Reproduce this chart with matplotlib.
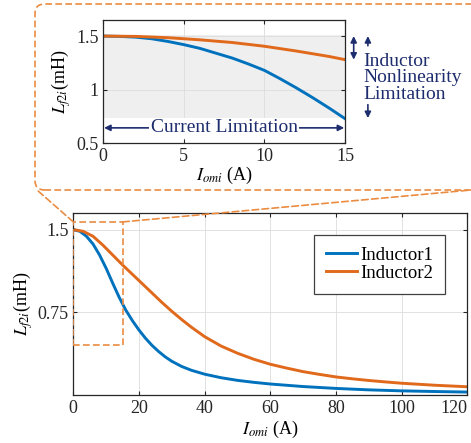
import matplotlib
matplotlib.use('Agg')
import matplotlib.pyplot as plt
from matplotlib.patches import FancyBboxPatch, Rectangle, ConnectionPatch

# Inductance vs. output current, full range
i_blue = [0, 2, 4, 6, 8, 10, 12, 14, 16, 18, 20, 22, 24, 26, 28, 30, 33, 36,
          40, 45, 50, 55, 60, 70, 80, 90, 100, 110, 120]
l_blue = [1.5, 1.485, 1.44, 1.37, 1.27, 1.15, 1.015, 0.885, 0.77, 0.675,
          0.59, 0.515, 0.45, 0.395, 0.347, 0.307, 0.26, 0.225, 0.19, 0.158,
          0.134, 0.116, 0.101, 0.078, 0.061, 0.048, 0.039, 0.033, 0.028]
i_orange = [0, 3, 6, 9, 12, 15, 18, 21, 24, 27, 30, 33, 36, 40, 45, 50, 55,
            60, 65, 70, 75, 80, 85, 90, 95, 100, 110, 120]
l_orange = [1.5, 1.485, 1.44, 1.36, 1.27, 1.18, 1.095, 1.01, 0.925, 0.84,
            0.76, 0.685, 0.615, 0.53, 0.445, 0.38, 0.325, 0.28, 0.245, 0.213,
            0.188, 0.165, 0.148, 0.133, 0.12, 0.108, 0.09, 0.076]

# Zoomed region 0-15 A
zi_blue = [0, 1, 2, 3, 4, 5, 6, 7, 8, 9, 10, 11, 12, 13, 14, 15]
zl_blue = [1.5, 1.497, 1.49, 1.475, 1.45, 1.42, 1.385, 1.34, 1.295, 1.24,
           1.18, 1.10, 1.015, 0.925, 0.83, 0.73]
zi_orange = [0, 2, 4, 6, 8, 10, 12, 14, 15]
zl_orange = [1.5, 1.497, 1.485, 1.465, 1.44, 1.405, 1.36, 1.31, 1.28]

series_names = ['Inductor1', 'Inductor2']
main_xticks = [0, 20, 40, 60, 80, 100, 120]
main_yticks = [0.75, 1.5]
zoom_xticks = [0, 5, 10, 15]
zoom_yticks = [0.5, 1, 1.5]

BLUE = '#0072BD'
ORANGE = '#E0691C'
DASH = '#EA8C42'
NAVY = '#1E2D6E'

plt.rcParams['font.family'] = ['Liberation Serif', 'DejaVu Serif']
plt.rcParams['mathtext.fontset'] = 'stix'
plt.rcParams['font.size'] = 13


def style_axes(ax):
    ax.tick_params(direction='in', length=3, top=True, right=True,
                   labelsize=13, colors='#262626', width=0.8)
    for s in ax.spines.values():
        s.set_color('#262626')
        s.set_linewidth(0.9)
    ax.grid(True, color='#dcdcdc', linewidth=0.6)
    ax.set_axisbelow(True)


fig = plt.figure(figsize=(4.71, 4.43), dpi=100)

# Main plot
ax = fig.add_axes([0.1556, 0.108, 0.8368, 0.411])
ax.plot(i_blue, l_blue, color=BLUE, lw=2.1, label=series_names[0])
ax.plot(i_orange, l_orange, color=ORANGE, lw=2.1, label=series_names[1])
ax.set_xlim(0, 120)
ax.set_ylim(0, 1.65)
ax.set_xticks(main_xticks)
ax.set_yticks(main_yticks)
ax.set_yticklabels(['0.75', '1.5'])
ax.set_xlabel(r'$I_{omi}$ (A)', fontsize=13, labelpad=1)
ax.set_ylabel(r'$L_{f2i}$(mH)', fontsize=13, labelpad=2)
style_axes(ax)
# keep the last tick label inside the figure
ax.get_xticklabels()[-1].set_horizontalalignment('right')
leg = ax.legend(loc='upper right', bbox_to_anchor=(0.943, 0.879),
                borderaxespad=0, fontsize=13.5, fancybox=False,
                edgecolor='#404040', framealpha=1, handlelength=1.65,
                borderpad=0.62, labelspacing=0.05, handletextpad=0.2)
leg.get_frame().set_linewidth(0.9)

# Zoom window marker
ax.add_patch(Rectangle((0, 0.45), 15, 1.12, fill=False, edgecolor=DASH,
                       lw=1.2, ls=(0, (4, 2)), zorder=3))

# Inset plot
ax_in = fig.add_axes([0.2193, 0.6765, 0.5132, 0.2784])
ax_in.axhspan(0.735, 1.51, color='#efefef', zorder=0.1, lw=0)
ax_in.plot(zi_blue, zl_blue, color=BLUE, lw=2.1)
ax_in.plot(zi_orange, zl_orange, color=ORANGE, lw=2.1)
ax_in.set_xlim(0, 15)
ax_in.set_ylim(0.5, 1.65)
ax_in.set_xticks(zoom_xticks)
ax_in.set_yticks(zoom_yticks)
ax_in.set_yticklabels(['0.5', '1', '1.5'])
ax_in.set_xlabel(r'$I_{omi}$ (A)', fontsize=13, labelpad=0)
ax_in.set_ylabel(r'$L_{f2i}$(mH)', fontsize=13, labelpad=2)
style_axes(ax_in)

arrow_kw = dict(arrowstyle='<|-|>', color=NAVY, lw=1.2, mutation_scale=9,
                shrinkA=0, shrinkB=0)
ax_in.annotate('', xy=(0.05, 0.644), xytext=(14.95, 0.644),
               arrowprops=arrow_kw)
ax_in.text(7.5, 0.644, 'Current Limitation', ha='center', va='center',
           color=NAVY, fontsize=14,
           bbox=dict(facecolor='white', edgecolor='none', pad=1))

# Nonlinearity markers to the right of the inset
ax_in.annotate('', xy=(15.54, 1.5), xytext=(15.54, 1.28),
               arrowprops=arrow_kw, annotation_clip=False)
single_kw = dict(arrowstyle='-|>', color=NAVY, lw=1.2, mutation_scale=9,
                 shrinkA=0, shrinkB=0)
ax_in.annotate('', xy=(16.42, 1.5), xytext=(16.42, 1.41),
               arrowprops=single_kw, annotation_clip=False)
ax_in.annotate('', xy=(16.42, 0.735), xytext=(16.42, 0.86),
               arrowprops=single_kw, annotation_clip=False)
for txt, yv in zip(['Inductor', 'Nonlinearity', 'Limitation'],
                   [1.265, 1.11, 0.953]):
    ax_in.text(16.15, yv, txt, ha='left', va='center', color=NAVY,
               fontsize=14, clip_on=False)

# Dashed callout frame and connectors
frame = FancyBboxPatch((35 / 471, 1 - 190 / 443), 470 / 471, 186 / 443,
                       boxstyle='round,pad=0,rounding_size=0.02',
                       mutation_aspect=471 / 443,
                       transform=fig.transFigure, fill=False,
                       edgecolor=DASH, lw=1.2, ls=(0, (4, 2)))
fig.add_artist(frame)
for xa, xb in [(0, 37 / 471), (15, 1.0)]:
    con = ConnectionPatch(xyA=(xa, 1.57), coordsA=ax.transData,
                          xyB=(xb, 1 - 190 / 443), coordsB=fig.transFigure,
                          color=DASH, lw=1.2, ls=(0, (4, 2)))
    fig.add_artist(con)

fig.savefig('out.png', dpi=100)
